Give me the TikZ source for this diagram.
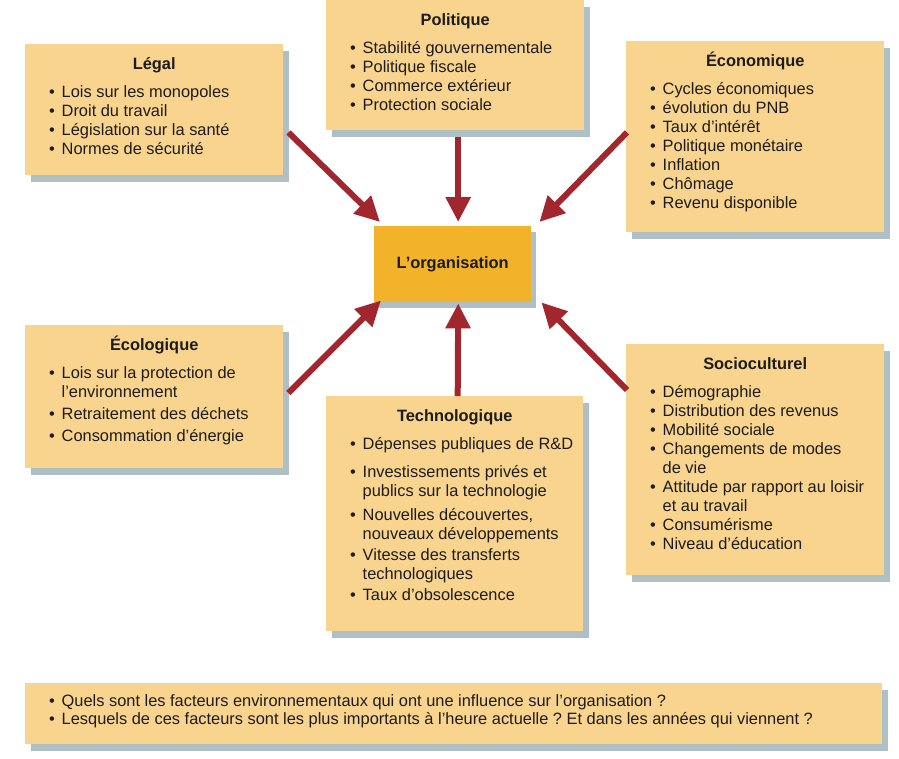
\documentclass[tikz,border=0pt]{standalone}
\usepackage{fontspec}
\setmainfont{Liberation Sans}
\usepackage{xcolor}
\usetikzlibrary{arrows.meta, shadows}
\definecolor{fondboite}{HTML}{F9D48F}
\definecolor{fondcentre}{HTML}{F2B32A}
\definecolor{ombre}{HTML}{AFBFC6}
\definecolor{rougefleche}{HTML}{A2262E}
\definecolor{texte}{HTML}{1C1C1C}
\frenchspacing
\newcommand{\boite}[3]{\begin{minipage}[t][#2][t]{#1}\fontsize{16.4}{19}\selectfont\raggedright #3\end{minipage}}
\newcommand{\titre}[1]{{\centering\rule{0pt}{25pt}\bfseries #1\par}\vspace{9pt}}
\newcommand{\puce}{\par\noindent\hangindent=36.5pt\hangafter=1\hspace*{24pt}\makebox[12.5pt][l]{\textbullet}\ignorespaces}

\begin{document}
\begin{tikzpicture}[x=1pt, y=-1pt,
        facteur/.style={anchor=north west, fill=fondboite, inner sep=0pt, text=texte,
            drop shadow={shadow xshift=6pt, shadow yshift=-7pt, fill=ombre, opacity=1}},
        centre/.style={anchor=north west, fill=fondcentre, minimum width=157pt, minimum height=76pt, inner sep=0pt,
            text=texte, font=\fontsize{16.4}{19}\selectfont\bfseries,
            drop shadow={shadow xshift=5pt, shadow yshift=-6pt, fill=ombre, opacity=1}},
        fleche/.style={draw=rougefleche, line width=6pt, -{Triangle[length=25pt, width=24pt]}}
    ]
    \useasboundingbox (0,0) rectangle (899,758);

    % Facteurs
    \node[facteur] (legal) at (25,44) {\boite{258pt}{131pt}{\titre{Légal}
        \puce Lois sur les monopoles
        \puce Droit du travail
        \puce Législation sur la santé
        \puce Normes de sécurité}};
    \node[facteur] (politique) at (326,0) {\boite{258pt}{130pt}{\titre{Politique}
        \puce Stabilité gouvernementale
        \puce Politique fiscale
        \puce Commerce extérieur
        \puce Protection sociale}};
    \node[facteur] (economique) at (626,41) {\boite{258pt}{191pt}{\titre{Économique}
        \puce Cycles économiques
        \puce évolution du PNB
        \puce Taux d’intérêt
        \puce Politique monétaire
        \puce Inflation
        \puce Chômage
        \puce Revenu disponible}};
    \node[facteur] (ecologique) at (25,325) {\boite{258pt}{143pt}{\titre{Écologique}
        \puce Lois sur la protection de\newline l’environnement
        \vspace{3pt}\puce Retraitement des déchets
        \vspace{3pt}\puce Consommation d’énergie}};
    \node[facteur] (techno) at (326,396) {\boite{257pt}{235pt}{\titre{Technologique}
        \puce Dépenses publiques de R\&D
        \vspace{9pt}\puce Investissements privés et\newline publics sur la technologie
        \vspace{5pt}\puce Nouvelles découvertes,\newline nouveaux développements
        \vspace{2pt}\puce Vitesse des transferts\newline technologiques
        \vspace{2pt}\puce Taux d’obsolescence}};
    \node[facteur] (socio) at (626,344) {\boite{258pt}{231pt}{\titre{Socioculturel}
        \puce Démographie
        \puce Distribution des revenus
        \puce Mobilité sociale
        \puce Changements de modes\newline de vie
        \puce Attitude par rapport au loisir\newline et au travail
        \puce Consumérisme
        \puce Niveau d’éducation}};

    % Organisation
    \node[centre] (org) at (374,226) {L’organisation};

    % Questions
    \node[facteur] (questions) at (25,683) {\boite{857pt}{61pt}{\fontsize{16.4}{18}\selectfont
        \puce\rule{0pt}{23pt}Quels sont les facteurs environnementaux qui ont une influence sur l’organisation ?
        \puce Lesquels de ces facteurs sont les plus importants à l’heure actuelle ? Et dans les années qui viennent ?}};

    % Influences
    \draw[fleche] ([shift={(5,-43)}]legal.south east) -- ([shift={(6,-4)}]org.north west);
    \draw[fleche] ([shift={(3,7)}]politique.south) -- ([shift={(5.5,-4)}]org.north);
    \draw[fleche] ([shift={(1,-100)}]economique.south west) -- ([shift={(8,-4)}]org.north east);
    \draw[fleche] ([shift={(5,68)}]ecologique.north east) -- ([shift={(7,-2)}]org.south west);
    \draw[fleche] ([shift={(3,0)}]techno.north) -- ([shift={(5.5,1)}]org.south);
    \draw[fleche] ([shift={(1,46)}]socio.north west) -- ([shift={(10,0)}]org.south east);

\end{tikzpicture}
\end{document}
